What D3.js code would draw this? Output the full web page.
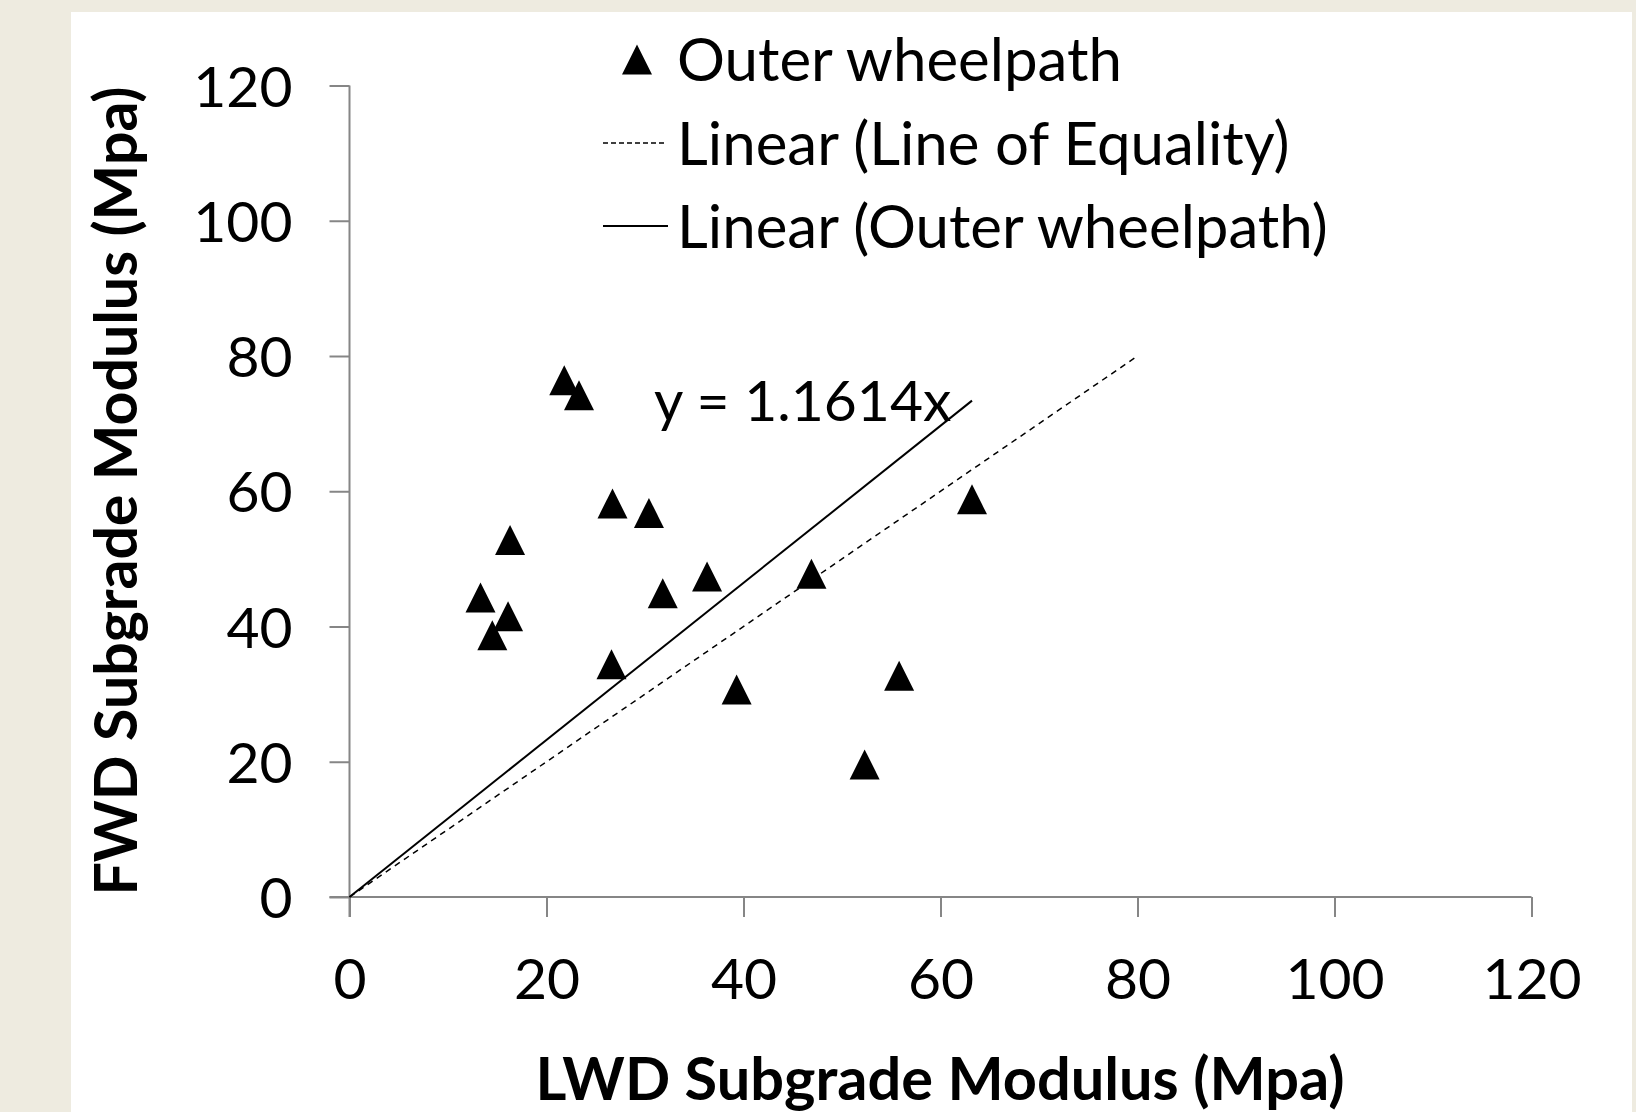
<!DOCTYPE html>
<html>
<head>
<meta charset="utf-8">
<script src="https://cdn.jsdelivr.net/npm/d3@7"></script>
<style>
  html, body { margin: 0; padding: 0; background: #eeebe0; }
  svg { display: block; }
  text { font-family: Lato, "Open Sans", sans-serif; fill: #000; }
</style>
</head>
<body>
<div id="chart"></div>
<script>
const width = 1636
const height = 1112

// LWD (x) vs FWD (y) subgrade modulus, outer wheelpath
const lwd = [21.8, 23.3, 26.7, 30.4, 16.3, 13.3, 16.1, 14.5, 31.8, 36.3, 46.9, 26.6, 39.3, 55.8, 52.3, 63.2]
const fwd = [76.4, 74.2, 58.2, 56.8, 52.8, 44.3, 41.5, 38.7, 44.9, 47.4, 47.8, 34.4, 30.7, 32.7, 19.6, 58.8]

const xTicks = [0, 20, 40, 60, 80, 100, 120]
const yTicks = [0, 20, 40, 60, 80, 100, 120]

const slope = 1.1614
const equalityRange = [0, 80]
const legendLabels = ["Outer wheelpath", "Linear (Line of Equality)", "Linear (Outer wheelpath)"]

const points = lwd.map((v, i) => ({x: v, y: fwd[i]}))
const fitRange = [0, d3.max(lwd)]

const svg = d3.select("#chart").append("svg")
  .attr("width", width)
  .attr("height", height)

svg.append("rect")
  .attr("x", 71).attr("y", 12)
  .attr("width", 1561).attr("height", height - 12)
  .attr("fill", "#fff")

const x = d3.scaleLinear().domain([0, 120]).range([349.5, 1531.5])
const y = d3.scaleLinear().domain([0, 120]).range([897, 85.5])

const axisColor = "#868686"

// axes
const xAxis = svg.append("g")
  .attr("transform", `translate(0,${y(0)})`)
  .call(d3.axisBottom(x).tickValues(xTicks).tickSize(20).tickSizeOuter(0).tickFormat(d3.format("d")))
xAxis.select(".domain").attr("stroke", axisColor).attr("stroke-width", 2)
  .attr("d", `M${x(0) - 20},0H${x(120)}`)
xAxis.selectAll(".tick line").attr("stroke", axisColor).attr("stroke-width", 2)
xAxis.selectAll(".tick text")
  .attr("y", 0).attr("dy", 0)
  .attr("transform", "translate(0,102)")
  .attr("font-size", 57).attr("font-family", "Lato, sans-serif")

const yAxis = svg.append("g")
  .attr("transform", `translate(${x(0)},0)`)
  .call(d3.axisLeft(y).tickValues(yTicks).tickSize(20).tickSizeOuter(0).tickFormat(d3.format("d")))
yAxis.select(".domain").attr("stroke", axisColor).attr("stroke-width", 2)
  .attr("d", `M0,${y(0) + 20}V${y(120)}`)
yAxis.selectAll(".tick line").attr("stroke", axisColor).attr("stroke-width", 2)
yAxis.selectAll(".tick text")
  .attr("x", -57).attr("dy", "0.36em")
  .attr("font-size", 57).attr("font-family", "Lato, sans-serif")

// lines
const line = d3.line().x(d => x(d[0])).y(d => y(d[1]))

svg.append("path")
  .datum(equalityRange.map(v => [v, v]))
  .attr("d", line)
  .attr("fill", "none")
  .attr("stroke", "#000")
  .attr("stroke-width", 1.5)
  .attr("stroke-dasharray", "6,5")

svg.append("path")
  .datum(fitRange.map(v => [v, v * slope]))
  .attr("d", line)
  .attr("fill", "none")
  .attr("stroke", "#000")
  .attr("stroke-width", 2)

// markers
const tri = "M0,-15L15,15L-15,15Z"
svg.append("g").selectAll("path")
  .data(points)
  .join("path")
    .attr("d", tri)
    .attr("transform", d => `translate(${x(d.x)},${y(d.y)})`)
    .attr("fill", "#000")

// equation label
svg.append("text")
  .attr("x", 654).attr("y", 421)
  .attr("font-size", 57)
  .text(`y = ${slope}x`)

// legend
const legend = svg.append("g")
const rowY = [59.5, 143, 226]
legend.append("path")
  .attr("d", tri)
  .attr("transform", `translate(637,${rowY[0]})`)
  .attr("fill", "#000")
legend.append("line")
  .attr("x1", 603).attr("x2", 665).attr("y1", rowY[1]).attr("y2", rowY[1])
  .attr("stroke", "#000").attr("stroke-width", 1.5).attr("stroke-dasharray", "5,3")
legend.append("line")
  .attr("x1", 603).attr("x2", 668).attr("y1", rowY[2]).attr("y2", rowY[2])
  .attr("stroke", "#000").attr("stroke-width", 2)
legend.selectAll("text.leg")
  .data(legendLabels)
  .join("text")
    .attr("class", "leg")
    .attr("x", 677)
    .attr("y", (d, i) => rowY[i])
    .attr("dy", "0.36em")
    .attr("font-size", 60)
    .text(d => d)

// axis titles
svg.append("text")
  .attr("x", 940).attr("y", 1100)
  .attr("text-anchor", "middle")
  .attr("font-size", 59.5)
  .attr("font-weight", "bold")
  .text("LWD Subgrade Modulus (Mpa)")

svg.append("text")
  .attr("transform", "translate(137,491) rotate(-90)")
  .attr("text-anchor", "middle")
  .attr("font-size", 59)
  .attr("font-weight", "bold")
  .text("FWD Subgrade Modulus (Mpa)")
</script>
</body>
</html>
